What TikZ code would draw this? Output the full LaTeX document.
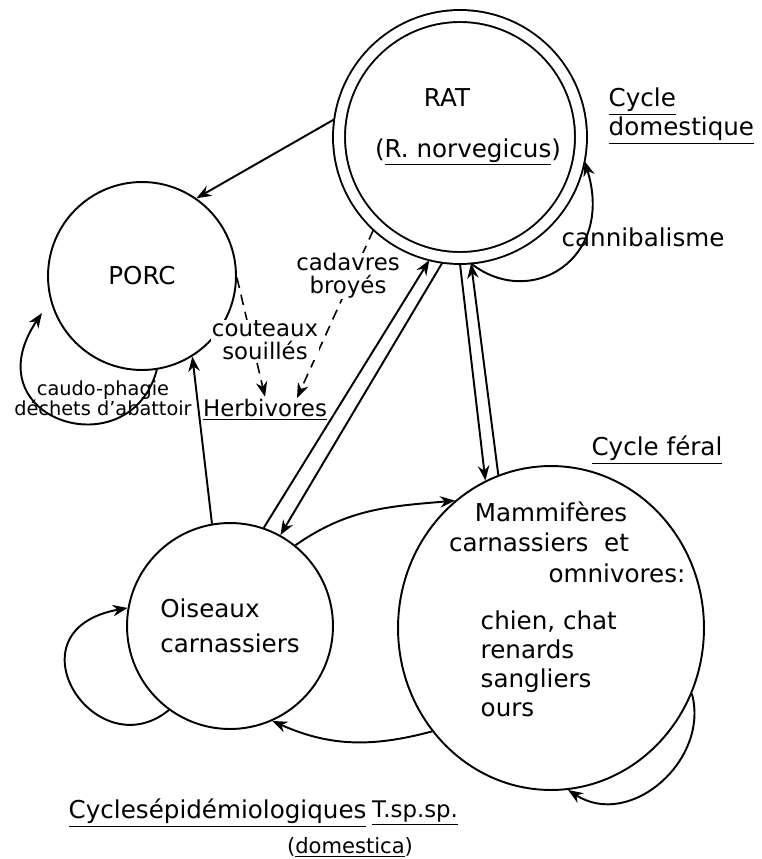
\documentclass[tikz,border=0pt]{standalone}
\usepackage{fontspec}
\setmainfont{DejaVu Sans}
\usepackage{tikz}
\usetikzlibrary{arrows.meta}
\usetikzlibrary{shapes.geometric}

\begin{document}
\begin{tikzpicture}[x=0.02cm,y=0.02cm,->,>={Stealth[length=8.5pt,width=6.5pt]},line width=1.1pt]
\fontsize{14}{18}\selectfont
\tikzstyle{main}=[circle, draw=black, inner sep=0pt]
\tikzstyle{oval}=[ellipse, draw=black, inner sep=0pt]
\tikzstyle{txt}=[inner sep=1pt, align=center]
\tikzstyle{small}=[txt, font=\fontsize{13}{13}\selectfont]
\tikzstyle{lbl}=[small, fill=white, inner sep=0.5pt]
\tikzstyle{food}=[dash pattern=on 6pt off 4pt, line width=0.9pt]
\useasboundingbox (0,0) rectangle (761,-859);
% hotes
\node[main, double, double distance=0.2cm, minimum size=4.84cm, outer sep=0.12cm] (rat) at (460,-137) {};
\node[txt] (rattitle) at (447,-98) {RAT};
\node[txt] (ratsp) at (468,-152) {(\underline{R. norvegicus})};
\node[main, minimum size=3.76cm] (porc) at (142,-276) {PORC};
\node[main, minimum size=4.12cm, align=left, font=\fontsize{14}{20}\selectfont] (ois) at (230,-626) {Oiseaux\\carnassiers};
\node[oval, minimum width=6.12cm, minimum height=6.48cm] (mam) at (551,-628) {};
\node[txt] (mam1) at (551,-512) {Mammifères};
\node[txt] (mam2) at (539,-542) {carnassiers~~et};
\node[txt] (mam3) at (617,-573) {omnivores:};
\node[txt, anchor=west, align=left, font=\fontsize{14}{16.5}\selectfont] (mamlist) at (478,-664) {chien, chat\\renards\\sangliers\\ours};
\node[small] (herb) at (265,-410) {\underline{Herbivores}};
\coordinate (herbtip) at (297,-398);
% titres
\node[txt, anchor=west, align=left, font=\fontsize{14}{14.5}\selectfont] (cycdom) at (606,-116) {\underline{Cycle}\\\underline{domestique}};
\node[txt] (cannib) at (643,-237) {cannibalisme};
\node[txt] (cycfer) at (657,-450) {\underline{Cycle féral}};
\node[txt, anchor=west] (cycepi) at (66,-813) {\underline{Cyclesépidémiologiques}};
\node[small] (tsp) at (415,-813) {\underline{T.sp.sp.}};
\node[txt, font=\fontsize{12}{12}\selectfont] (domestica) at (350,-847) {(\underline{domestica})};
\node[txt, font=\fontsize{11}{11.5}\selectfont] (caudo) at (103,-398) {caudo-phagie\\déchets d'abattoir};
% transmissions
\draw (rat.172) -- (porc.55);
\draw (ois.100) -- (porc.-58);
\foreach \from/\to in {ois.71/rat.256, rat.262/ois.61, rat.270/mam.114, mam.109/rat.275}
    \draw (\from) -- (\to);
\draw (ois.51) to[out=35,in=185] (mam.127);
\draw (mam.221) to[out=195,in=-24] (ois.-66);
\draw (rat.-85) .. controls (530,-310) and (615,-260) .. (rat.-11);
\draw[shorten >=0.3cm] (porc.-81) .. controls (130,-470) and (-30,-420) .. (porc.195);
\draw (ois.234) .. controls (95,-770) and (5,-630) .. (ois.170);
\draw (mam.-25) .. controls (710,-760) and (630,-830) .. (mam.-84);
\draw[food] (porc.-1) -- (herb.north);
\draw[food] (rat.227) -- (herbtip);
\node[lbl] (cad) at (348,-276) {cadavres\\broyés};
\node[lbl] (cout) at (265,-340) {couteaux\\souillés};
\end{tikzpicture}
\end{document}
